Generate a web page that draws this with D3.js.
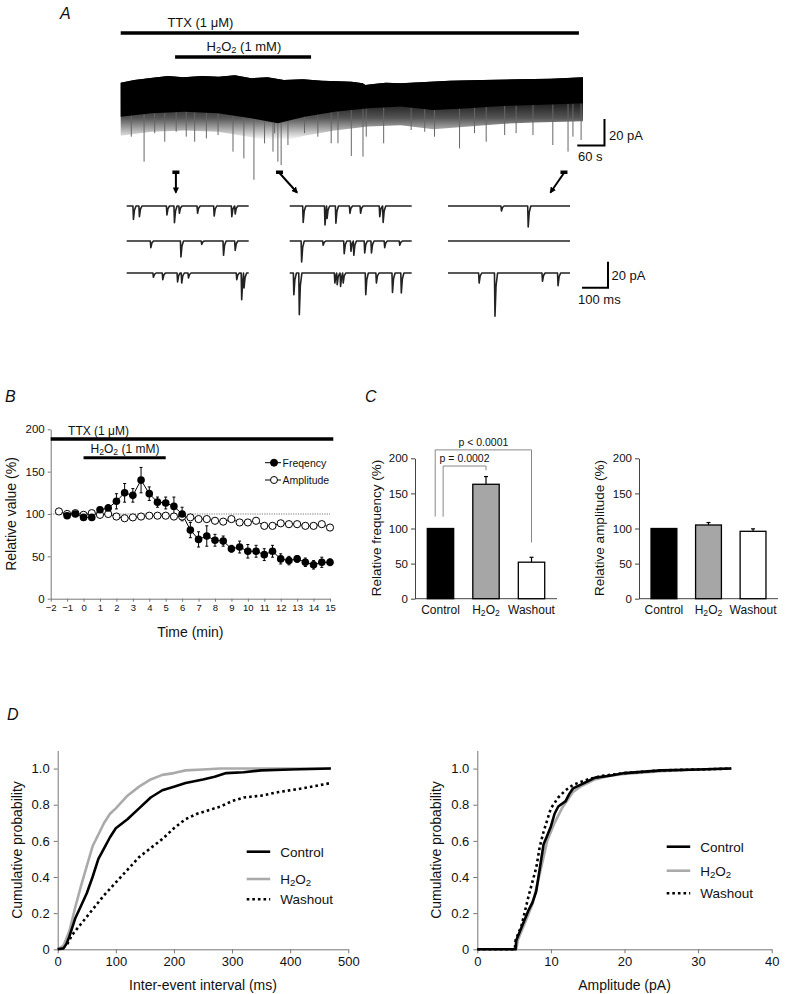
<!DOCTYPE html>
<html>
<head>
<meta charset="utf-8">
<script src="https://cdn.jsdelivr.net/npm/d3@7"></script>
<style>
body { margin: 0; background: #fff; }
svg { display: block; }
text { font-family: "Liberation Sans", Arial, Helvetica, sans-serif; fill: #111; }
</style>
</head>
<body>
<div id="fig"></div>
<script>
// ---------- data ----------
// A: long recording, time in min, current in pA
var traceTopT = [-2, -1.5, -0.9, -0.26, 0.3, 1, 1.6, 2.2, 2.8, 3.4, 4, 4.7, 5.4, 6, 6.5, 6.9, 7, 7.3, 7.75, 8.3, 9.2, 10.1, 11.3, 12.6, 13.8, 15];
var traceTopI = [-2, 0, 1.5, 3, 2, 3, 2.5, 3.5, 1.3, 2, 0, 0.5, -0.5, -1, -1.3, -2.5, -3.8, -3, -2, -2.5, -1.5, -0.5, 0, 0.5, 1, 2];
var traceCoreT = [-2, -0.87, 0.35, 1.58, 2.8, 3.78, 4.76, 5.87, 7.1, 8.3, 9.5, 10.8, 12, 13.2, 15];
var traceCoreI = [-27.6, -25, -23.8, -25, -28.8, -32.6, -27.6, -23.8, -21.3, -20, -22.6, -21.3, -19.5, -18.8, -17.5];
var traceNoiseI = [-42, -39, -38, -39, -43, -47, -42, -38, -35, -34, -37, -35, -33, -32, -31];
var spikeT = [-1.61, -1.14, -0.75, -0.38, 0.04, 0.41, 0.72, 1.15, 1.58, 2.13, 2.53, 2.9, 3.29, 3.6, 3.66, 3.78, 3.9, 4.15,
              4.76, 5.25, 5.74, 5.99, 6.48, 6.91, 7.03, 7.67, 8.68, 9.18, 9.54, 10.46, 11.01, 11.44, 12.12, 12.54, 13.16,
              13.89, 14.45, 14.63, 14.93];
var spikeI = [-42.6, -61.4, -40, -46.4, -38.9, -42.6, -46.4, -43.9, -41.4, -53.9, -58.9, -75, -47.6, -53.9, -40, -61.4, -63.9, -48.9,
              -40, -42.6, -47.6, -47.6, -57.1, -57.6, -42.6, -47.6, -37.6, -38.9, -42.6, -51.4, -40, -46.4, -41.4, -40, -41.4,
              -48.9, -53.9, -42.6, -45.1];
var ttxSpanA = [-2, 14.85];
var h2o2Span = [0, 5];
var arrowT = [0.03, 3.84, 14.3];

// A: expanded sweeps, event time (ms) and amplitude (pA), three rows per condition
var ctrlEvT = [[25, 48, 154, 183, 202, 272, 336, 404, 417], [92, 208, 288, 372, 417], [102, 138, 195, 211, 237, 423, 442, 451]];
var ctrlEvA = [[10.3, 8.2, 6.9, 12.8, 5.6, 5.6, 7.7, 8.2, 6.2], [5.1, 12.3, 2.6, 11, 7.2], [3.3, 5.1, 6.9, 7.7, 3.8, 5.1, 20.5, 11.5]];
var h2o2EvT = [[51, 135, 143, 177, 231, 272, 346, 359], [45, 128, 209, 235, 246, 288, 314, 365, 423], [15, 36, 173, 182, 195, 205, 292, 333, 395, 429]];
var h2o2EvA = [[12.6, 14.6, 9.5, 13.3, 5.6, 5.6, 8.2, 12.6], [16.2, 3.3, 9.7, 7.9, 11, 9.2, 9.2, 5.1, 3.3], [16.7, 32, 7.7, 9, 10.3, 7.7, 16.7, 7.7, 14.9, 15.4]];
var washEvT = [[205, 308], [], [119, 180, 363, 423]];
var washEvA = [[3.8, 16.2], [], [7.7, 33.3, 6.4, 9.7]];

// B: time course
var freqTime = [-1, -0.5, 0, 0.5, 1, 1.5, 2, 2.5, 3, 3.5, 4, 4.5, 5, 5.5, 6, 6.5, 7, 7.5, 8, 8.5, 9, 9.5, 10, 10.5, 11, 11.5, 12, 12.5, 13, 13.5, 14, 14.5, 15];
var freqVal = [98, 100, 96, 96, 105, 107, 115, 125, 122, 140, 124, 114, 113, 109, 100, 81, 70, 74, 69, 68, 59, 61, 56, 56, 52, 56, 47, 45, 47, 43, 40, 43, 43];
var freqErr = [3, 3, 3, 3, 3, 4, 9, 11, 8, 15, 8, 6, 7, 11, 8, 9, 9, 12, 7, 6, 4, 7, 8, 7, 7, 7, 6, 5, 4, 5, 5, 6, 4];
var ampTime = [-1.5, -1, -0.5, 0, 0.5, 1, 1.5, 2, 2.5, 3, 3.5, 4, 4.5, 5, 5.5, 6, 6.5, 7, 7.5, 8, 8.5, 9, 9.5, 10, 10.5, 11, 11.5, 12, 12.5, 13, 13.5, 14, 14.5, 15];
var ampVal = [103, 100, 101, 99, 101, 99, 100, 97, 95, 96, 97, 98, 98, 98, 97, 97, 96, 94, 94, 92, 91, 94, 90, 90, 92, 86, 86, 89, 88, 88, 86, 86, 88, 84];
var ttxSpanB = [-2, 15.2];

// C: bar charts
var conditions = ["Control", "H2O2", "Washout"];
var relFreq = [100, 163, 52];
var relFreqErr = [0, 11, 7];
var relAmp = [100, 105, 96];
var relAmpErr = [0, 3.5, 3.5];
var barFill = ["#000", "#a6a6a6", "#fff"];
var pLabels = ["p = 0.0002", "p < 0.0001"];
var pTarget = [1, 2];
var pTop = [189, 212];
var pRightEnd = [183, 80];
var pLeftEnd = [117, 117];

// D: cumulative distributions
var isiCtrlX = [0, 10, 15, 20, 30, 40, 50, 60, 70, 80, 90, 100, 120, 140, 160, 180, 200, 220, 250, 270, 290, 320, 350, 400, 470];
var isiCtrlY = [0, 0.005, 0.03, 0.07, 0.17, 0.24, 0.31, 0.4, 0.5, 0.56, 0.62, 0.67, 0.72, 0.78, 0.84, 0.88, 0.9, 0.92, 0.94, 0.955, 0.975, 0.98, 0.99, 0.995, 1];
var isiH2o2X = [0, 10, 20, 30, 40, 50, 60, 80, 90, 100, 120, 140, 160, 180, 200, 220, 250, 280, 470];
var isiH2o2Y = [0, 0.02, 0.1, 0.23, 0.35, 0.46, 0.57, 0.7, 0.75, 0.78, 0.85, 0.9, 0.94, 0.965, 0.975, 0.99, 0.995, 1, 1];
var isiWashX = [0, 15, 25, 40, 60, 80, 100, 120, 140, 160, 180, 200, 220, 240, 260, 280, 300, 320, 350, 380, 420, 470];
var isiWashY = [0, 0.02, 0.08, 0.14, 0.22, 0.3, 0.37, 0.44, 0.51, 0.56, 0.61, 0.67, 0.72, 0.75, 0.77, 0.79, 0.82, 0.84, 0.85, 0.87, 0.89, 0.92];
var ampCtrlX = [0, 5.2, 5.3, 6, 7, 7.5, 8, 8.5, 9, 10, 10.5, 11, 12, 12.5, 13, 14, 15, 16, 18, 20, 25, 30, 34.5];
var ampCtrlY = [0, 0, 0.05, 0.12, 0.22, 0.26, 0.32, 0.45, 0.58, 0.68, 0.75, 0.79, 0.82, 0.86, 0.89, 0.91, 0.93, 0.95, 0.96, 0.975, 0.99, 0.995, 1];
var ampH2o2X = [0, 5.3, 5.5, 6.5, 7.5, 8.5, 9.5, 10.5, 11.5, 13, 14, 16, 18, 20, 25, 30, 34.5];
var ampH2o2Y = [0, 0, 0.05, 0.15, 0.25, 0.42, 0.6, 0.7, 0.78, 0.87, 0.9, 0.94, 0.96, 0.97, 0.985, 0.995, 1];
var ampWashX = [0, 5.1, 5.2, 6, 7, 8, 8.5, 9, 10, 11, 12, 13, 15, 17, 20, 25, 30, 34.5];
var ampWashY = [0, 0, 0.05, 0.13, 0.3, 0.45, 0.57, 0.65, 0.78, 0.84, 0.88, 0.91, 0.94, 0.96, 0.975, 0.99, 0.995, 1];
var legendOrder = ["Control", "H2O2", "Washout"];

// ---------- helpers ----------
var svg = d3.select("#fig").append("svg").attr("width", 788).attr("height", 994);

function txt(g, x, y, s, size, anchor) {
    return g.append("text").attr("x", x).attr("y", y).attr("font-size", size)
        .attr("text-anchor", anchor || "start").text(s);
}
// H2O2 with subscripts
function chem(t, name, suffix) {
    if (name !== "H2O2") { t.text(name + (suffix || "")); return t; }
    t.append("tspan").text("H");
    t.append("tspan").attr("font-size", "72%").attr("baseline-shift", "-22%").text("2");
    t.append("tspan").text("O");
    t.append("tspan").attr("font-size", "72%").attr("baseline-shift", "-22%").text("2");
    if (suffix) t.append("tspan").text(suffix);
    return t;
}
function panelLetter(x, y, s) {
    txt(svg, x, y, s, 16).attr("font-style", "italic");
}
function styleAxis(g, col) {
    g.selectAll("path, line").attr("stroke", col).attr("stroke-width", 1);
    g.selectAll("text").attr("fill", "#111").style("font-family", '"Liberation Sans", Arial, sans-serif');
}

// ---------- panel A ----------
panelLetter(60, 19, "A");
var xA = d3.scaleLinear().domain([-2, 15]).range([120.7, 583]);
var yA = d3.scaleLinear().domain([0, -60]).range([80, 159.8]);
var gA = svg.append("g");

gA.append("line").attr("x1", xA(ttxSpanA[0])).attr("x2", xA(ttxSpanA[1])).attr("y1", 33).attr("y2", 33)
    .attr("stroke", "#000").attr("stroke-width", 3.5);
txt(gA, xA(0.93), 27, "TTX (1 \u03bcM)", 13, "middle");
gA.append("line").attr("x1", xA(h2o2Span[0])).attr("x2", xA(h2o2Span[1])).attr("y1", 57).attr("y2", 57)
    .attr("stroke", "#000").attr("stroke-width", 3.5);
chem(txt(gA, xA(2.53), 51, "", 13, "middle"), "H2O2", " (1 mM)");

var defs = svg.append("defs");
var grad = defs.append("linearGradient").attr("id", "fuzz").attr("gradientUnits", "userSpaceOnUse")
    .attr("x1", 0).attr("x2", 0).attr("y1", 100).attr("y2", 140);
grad.append("stop").attr("offset", 0).attr("stop-color", "#111");
grad.append("stop").attr("offset", 0.45).attr("stop-color", "#555");
grad.append("stop").attr("offset", 1).attr("stop-color", "#fff");

var coreAt = d3.scaleLinear().domain(traceCoreT).range(traceCoreI);
var polyLine = d3.line().x(function(d) { return xA(d[0]); }).y(function(d) { return yA(d[1]); });
var topPts = traceTopT.map(function(t, i) { return [t, traceTopI[i]]; });
var noisePts = traceCoreT.map(function(t, i) { return [t, traceNoiseI[i]]; }).reverse();
var corePts = traceCoreT.map(function(t, i) { return [t, traceCoreI[i]]; }).reverse();

gA.append("path").attr("d", polyLine(topPts.concat(noisePts)) + "Z").attr("fill", "url(#fuzz)");
gA.selectAll("line.spike").data(spikeT).enter().append("line")
    .attr("x1", function(d) { return xA(d); }).attr("x2", function(d) { return xA(d); })
    .attr("y1", function(d) { return yA(coreAt(d)); })
    .attr("y2", function(d, i) { return yA(spikeI[i]); })
    .attr("stroke", "#666").attr("stroke-width", 1);
gA.append("path").attr("d", polyLine(topPts.concat(corePts)) + "Z").attr("fill", "#000");

// scale bar 20 pA / 60 s
gA.append("path").attr("d", "M" + xA(14.79) + "," + yA(-49.3) + "H" + xA(15.79) + "V" + yA(-29.3))
    .attr("stroke", "#000").attr("stroke-width", 2).attr("fill", "none");
txt(gA, 609, 139.5, "20 pA", 13);
txt(gA, 578, 161, "60 s", 13);

// arrows to the expanded sweeps
defs.append("marker").attr("id", "ah").attr("viewBox", "0 0 10 10").attr("refX", 8).attr("refY", 5)
    .attr("markerWidth", 3.2).attr("markerHeight", 3.2).attr("orient", "auto")
    .append("path").attr("d", "M0,0L10,5L0,10Z").attr("fill", "#000");
var arrowDx = [0, 17.5, -13.5];
arrowT.forEach(function(t, i) {
    var x0 = xA(t);
    gA.append("rect").attr("x", x0 - 3.5).attr("y", 170.5).attr("width", 7).attr("height", 3.5).attr("fill", "#000");
    gA.append("line").attr("x1", x0).attr("y1", 173).attr("x2", x0 + arrowDx[i]).attr("y2", 192.5)
        .attr("stroke", "#000").attr("stroke-width", 2).attr("marker-end", "url(#ah)");
});

var xS = d3.scaleLinear().domain([0, 470]).range([0, 122]);
var yS = d3.scaleLinear().domain([0, -40]).range([0, 52]);
var colStart = [126.7, 289.7, 448];
var rowBase = [206, 241, 273];
var sweepLine = d3.line().x(function(d) { return xS(d[0]); }).y(function(d) { return yS(d[1]); });

function sweepPoints(ts, as) {
    var pts = [[0, 0]];
    ts.forEach(function(t, i) {
        var next = i < ts.length - 1 ? ts[i + 1] : 470;
        pts.push([t - 1, 0], [t + 1, -as[i]]);
        if (t + 5 < next - 1) pts.push([t + 5, -as[i] * 0.3]);
        if (t + 11 < next - 1) pts.push([t + 11, 0]);
    });
    pts.push([470, 0]);
    return pts;
}
[[ctrlEvT, ctrlEvA], [h2o2EvT, h2o2EvA], [washEvT, washEvA]].forEach(function(c, ci) {
    c[0].forEach(function(ts, ri) {
        gA.append("path").attr("transform", "translate(" + colStart[ci] + "," + rowBase[ri] + ")")
            .attr("d", sweepLine(sweepPoints(ts, c[1][ri])))
            .attr("fill", "none").attr("stroke", "#222").attr("stroke-width", 1.6).attr("stroke-linejoin", "round");
    });
});
var sb2 = gA.append("g").attr("transform", "translate(608,287.7)");
sb2.append("path").attr("d", "M" + (-xS(100)) + ",0H0V" + (-(yS(-20))))
    .attr("stroke", "#000").attr("stroke-width", 2).attr("fill", "none");
txt(gA, 611.5, 279.5, "20 pA", 13);
txt(gA, 578, 303.5, "100 ms", 13);

// ---------- panel B ----------
panelLetter(5, 402, "B");
var xB = d3.scaleLinear().domain([-2, 15]).range([50.7, 330]);
var yB = d3.scaleLinear().domain([0, 200]).range([598.7, 429.3]);
var gB = svg.append("g");

var bxAxis = gB.append("g").attr("transform", "translate(0," + yB(0) + ")")
    .call(d3.axisBottom(xB).tickValues(d3.range(-2, 16)).tickSize(3).tickSizeOuter(0).tickPadding(3));
bxAxis.selectAll("text").attr("font-size", 9.5);
styleAxis(bxAxis, "#777");
var byAxis = gB.append("g").attr("transform", "translate(" + xB(-2) + ",0)")
    .call(d3.axisLeft(yB).tickValues([0, 50, 100, 150, 200]).tickSize(3).tickSizeOuter(0).tickPadding(3));
byAxis.selectAll("text").attr("font-size", 11.5);
styleAxis(byAxis, "#777");

gB.append("line").attr("x1", xB(-2)).attr("x2", xB(15)).attr("y1", yB(100)).attr("y2", yB(100))
    .attr("stroke", "#555").attr("stroke-width", 0.8).attr("stroke-dasharray", "1.2,1.2");

gB.append("line").attr("x1", xB(ttxSpanB[0])).attr("x2", xB(ttxSpanB[1])).attr("y1", yB(188.5)).attr("y2", yB(188.5))
    .attr("stroke", "#000").attr("stroke-width", 3.5);
txt(gB, xB(0.91), yB(188.5) - 4, "TTX (1 \u03bcM)", 12, "middle");
gB.append("line").attr("x1", xB(h2o2Span[0])).attr("x2", xB(h2o2Span[1])).attr("y1", yB(166.5)).attr("y2", yB(166.5))
    .attr("stroke", "#000").attr("stroke-width", 3);
chem(txt(gB, xB(2.52), yB(166.5) - 4.5, "", 12, "middle"), "H2O2", " (1 mM)");

var freqData = freqTime.map(function(t, i) { return { t: t, v: freqVal[i], e: freqErr[i] }; });
var ampData = ampTime.map(function(t, i) { return { t: t, v: ampVal[i] }; });
var lineB = d3.line().x(function(d) { return xB(d.t); }).y(function(d) { return yB(d.v); });

gB.append("path").attr("d", lineB(ampData)).attr("fill", "none").attr("stroke", "#000").attr("stroke-width", 0.9);
gB.append("path").attr("d", lineB(freqData)).attr("fill", "none").attr("stroke", "#000").attr("stroke-width", 1);
var eb = gB.append("g").attr("stroke", "#000").attr("stroke-width", 1);
freqData.forEach(function(d) {
    eb.append("line").attr("x1", xB(d.t)).attr("x2", xB(d.t)).attr("y1", yB(d.v - d.e)).attr("y2", yB(d.v + d.e));
    eb.append("line").attr("x1", xB(d.t) - 1.5).attr("x2", xB(d.t) + 1.5).attr("y1", yB(d.v + d.e)).attr("y2", yB(d.v + d.e));
    eb.append("line").attr("x1", xB(d.t) - 1.5).attr("x2", xB(d.t) + 1.5).attr("y1", yB(d.v - d.e)).attr("y2", yB(d.v - d.e));
});
gB.selectAll("circle.amp").data(ampData).enter().append("circle")
    .attr("cx", function(d) { return xB(d.t); }).attr("cy", function(d) { return yB(d.v); }).attr("r", 3.6)
    .attr("fill", "#fff").attr("stroke", "#000").attr("stroke-width", 1);
gB.selectAll("circle.freq").data(freqData).enter().append("circle")
    .attr("cx", function(d) { return xB(d.t); }).attr("cy", function(d) { return yB(d.v); }).attr("r", 3.8)
    .attr("fill", "#000");

// legend
[["Freqency", "#000"], ["Amplitude", "#fff"]].forEach(function(l, i) {
    var y = 462.7 + i * 17.3;
    gB.append("line").attr("x1", 265).attr("x2", 281).attr("y1", y).attr("y2", y).attr("stroke", "#000");
    gB.append("circle").attr("cx", 274).attr("cy", y).attr("r", 3.5).attr("fill", l[1]).attr("stroke", "#000");
    txt(gB, 282.5, y + 3.8, l[0], 10.5);
});

txt(gB, 0, 0, "Relative value (%)", 14, "middle").attr("transform", "translate(16,514) rotate(-90)");
txt(gB, xB(6.5), 637, "Time (min)", 14, "middle");

// ---------- panel C ----------
panelLetter(365, 402, "C");
var yC = d3.scaleLinear().domain([0, 200]).range([598.7, 458.3]);
function barChart(x0, x1, vals, errs, title, titleX) {
    var g = svg.append("g");
    var x = d3.scaleBand().domain(conditions).range([x0, x1]).paddingInner(0.42).paddingOuter(0.27);
    var ya = g.append("g").attr("transform", "translate(" + x0 + ",0)")
        .call(d3.axisLeft(yC).tickValues([0, 50, 100, 150, 200]).tickSize(4).tickSizeOuter(0).tickPadding(3));
    ya.selectAll("text").attr("font-size", 11.5);
    styleAxis(ya, "#444");
    g.append("line").attr("x1", x0).attr("x2", x1).attr("y1", yC(0)).attr("y2", yC(0)).attr("stroke", "#444");
    conditions.forEach(function(c, i) {
        var cx = x(c) + x.bandwidth() / 2;
        if (errs[i] > 0) {
            g.append("line").attr("x1", cx).attr("x2", cx).attr("y1", yC(vals[i])).attr("y2", yC(vals[i] + errs[i]))
                .attr("stroke", "#000").attr("stroke-width", 1.2);
            g.append("line").attr("x1", cx - 2).attr("x2", cx + 2).attr("y1", yC(vals[i] + errs[i])).attr("y2", yC(vals[i] + errs[i]))
                .attr("stroke", "#000").attr("stroke-width", 1.2);
        }
        g.append("rect").attr("x", x(c)).attr("y", yC(vals[i])).attr("width", x.bandwidth())
            .attr("height", yC(0) - yC(vals[i])).attr("fill", barFill[i]).attr("stroke", "#000").attr("stroke-width", 1.3);
        chem(txt(g, cx, 614, "", 12, "middle"), c);
    });
    txt(g, 0, 0, title, 13.5, "middle").attr("transform", "translate(" + titleX + ",528) rotate(-90)");
    return { g: g, x: x };
}
var cL = barChart(415, 557, relFreq, relFreqErr, "Relative frequency (%)", 381);
barChart(639, 778, relAmp, relAmpErr, "Relative amplitude (%)", 604);

// significance brackets
pLabels.forEach(function(lab, i) {
    var xb = cL.x, bw = xb.bandwidth();
    var xl = xb("Control") + (i === 0 ? 0.6 : 0.3) * bw;
    var xr = xb(conditions[pTarget[i]]) + bw / 2;
    cL.g.append("path").attr("d", "M" + xl + "," + yC(pLeftEnd[i]) + "V" + yC(pTop[i]) + "H" + xr + "V" + yC(pRightEnd[i]))
        .attr("fill", "none").attr("stroke", "#888").attr("stroke-width", 1);
    txt(cL.g, (xl + xr) / 2, yC(pTop[i]) - 4, lab, 10.5, "middle");
});

// ---------- panel D ----------
panelLetter(7, 720, "D");
var yD = d3.scaleLinear().domain([0, 1.1]).range([949.3, 750.5]);
function cdfChart(x, ticks, series, legX, legY, title) {
    var g = svg.append("g");
    var xa = g.append("g").attr("transform", "translate(0," + yD(0) + ")")
        .call(d3.axisBottom(x).tickValues(ticks).tickSize(4).tickSizeOuter(0).tickPadding(3));
    xa.selectAll("text").attr("font-size", 13);
    styleAxis(xa, "#777");
    var ya = g.append("g").attr("transform", "translate(" + x.range()[0] + ",0)")
        .call(d3.axisLeft(yD).tickValues([0, 0.2, 0.4, 0.6, 0.8, 1.0]).tickSize(4).tickSizeOuter(0).tickPadding(4)
            .tickFormat(function(d) { return d === 0 ? "0" : d3.format(".1f")(d); }));
    ya.selectAll("text").attr("font-size", 13);
    styleAxis(ya, "#777");
    var ln = d3.line().x(function(d) { return x(d[0]); }).y(function(d) { return yD(d[1]); });
    series.forEach(function(s) {
        g.append("path").attr("d", ln(s.xs.map(function(v, i) { return [v, s.ys[i]]; })))
            .attr("fill", "none").attr("stroke", s.col).attr("stroke-width", 2.6)
            .attr("stroke-dasharray", s.dash || null).attr("stroke-linejoin", "round");
    });
    legendOrder.forEach(function(name, i) {
        var s = series.filter(function(d) { return d.name === name; })[0];
        var y = legY[i];
        g.append("line").attr("x1", legX).attr("x2", legX + 23.5).attr("y1", y).attr("y2", y)
            .attr("stroke", s.col).attr("stroke-width", 2.6).attr("stroke-dasharray", s.dash || null);
        chem(txt(g, legX + 33.5, y + 5, "", 13.5), s.name);
    });
    txt(g, d3.mean(x.range()), 990, title, 14, "middle");
    txt(g, 0, 0, "Cumulative probability", 14, "middle")
        .attr("transform", "translate(" + (x.range()[0] - 36) + ",850) rotate(-90)");
}
var xDL = d3.scaleLinear().domain([0, 500]).range([57.7, 348.3]);
var xDR = d3.scaleLinear().domain([0, 40]).range([477.3, 771.7]);
cdfChart(xDL, [0, 100, 200, 300, 400, 500], [
    { name: "Washout", xs: isiWashX, ys: isiWashY, col: "#000", dash: "2.6,3" },
    { name: "H2O2", xs: isiH2o2X, ys: isiH2o2Y, col: "#aaa" },
    { name: "Control", xs: isiCtrlX, ys: isiCtrlY, col: "#000" }
], 246.7, [851.7, 879, 899.3], "Inter-event interval (ms)");
cdfChart(xDR, [0, 10, 20, 30, 40], [
    { name: "H2O2", xs: ampH2o2X, ys: ampH2o2Y, col: "#aaa" },
    { name: "Control", xs: ampCtrlX, ys: ampCtrlY, col: "#000" },
    { name: "Washout", xs: ampWashX, ys: ampWashY, col: "#000", dash: "2.6,3" }
], 666.7, [846.7, 870.7, 893.3], "Amplitude (pA)");
</script>
</body>
</html>
